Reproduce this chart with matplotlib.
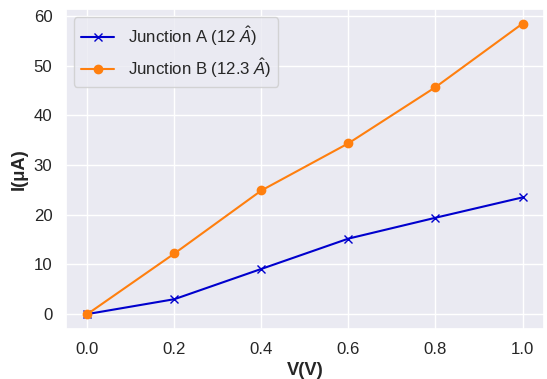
import matplotlib
matplotlib.use("Agg")
import matplotlib.pyplot as plt
import seaborn as sns

voltage = [0.0, 0.2, 0.4, 0.6, 0.8, 1.0]
current_a = [0.0, 3.0, 9.1, 15.2, 19.4, 23.5]
current_b = [0.0, 12.2, 24.9, 34.4, 45.7, 58.5]

sns.set_theme(style="darkgrid", font_scale=1.1)
plt.rcParams['font.family'] = ['Liberation Sans', 'DejaVu Sans']
plt.rcParams['mathtext.fontset'] = 'custom'
plt.rcParams['mathtext.it'] = 'Liberation Sans:italic'
plt.rcParams['mathtext.rm'] = 'Liberation Sans'

fig, ax = plt.subplots(figsize=(5.47, 3.79), dpi=100)
fig.subplots_adjust(left=0.12, right=0.995, top=0.976, bottom=0.133)

ax.plot(voltage, current_a, color="mediumblue", marker="x", label=r"Junction A (12 $\hat{A}$)")
ax.plot(voltage, current_b, color="#ff7f0e", marker="o", label=r"Junction B (12.3 $\hat{A}$)")

ax.set_xlabel("V(V)", fontweight="bold")
ax.set_ylabel("I(μA)", fontweight="bold")
ax.legend(loc="upper left")

plt.savefig("out.png", format="png")
